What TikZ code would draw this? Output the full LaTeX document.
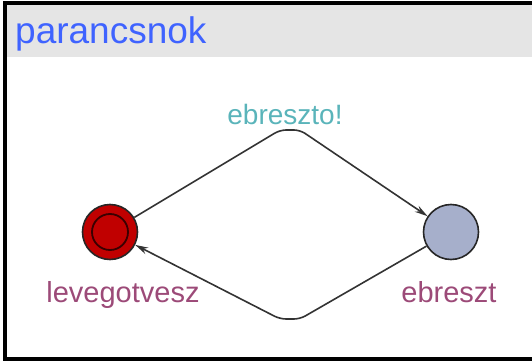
\documentclass[tikz,border=0pt]{standalone}
\usepackage{fontspec}
\setmainfont{Liberation Sans}
\usetikzlibrary{arrows.meta}
\definecolor{headgrey}{HTML}{E5E5E5}
\definecolor{titleblue}{HTML}{3F63FF}
\definecolor{synccol}{HTML}{5AB4BA}
\definecolor{namecol}{HTML}{9C4A78}
\definecolor{initred}{HTML}{C00000}
\definecolor{locblue}{HTML}{A6AFCB}
\definecolor{edgecol}{HTML}{333333}
\tikzset{
  location/.style={circle, draw=black!85, line width=1.6pt, minimum size=55pt, inner sep=0pt},
  transition/.style={draw=edgecol, line width=1.6pt, rounded corners=6pt,
    -{Stealth[length=13pt,width=7pt]}},
  synclabel/.style={text=synccol, font=\fontsize{28}{30}\selectfont, anchor=base},
  locname/.style={text=namecol, font=\fontsize{29}{31}\selectfont, anchor=base},
}
\begin{document}
\begin{tikzpicture}[x=1pt,y=-1pt]
  \useasboundingbox (0,0) rectangle (532,361);
  % header bar with template name
  \fill[headgrey] (5,5) rectangle (532,57);
  \node[anchor=base west, inner sep=0pt, text=titleblue,
        font=\fontsize{37}{39}\selectfont] (title) at (15,44) {parancsnok};
  % frame: top, left and bottom edges
  \draw[black, line width=4pt] (532,3.5) -- (5,3.5) -- (5,359) -- (532,359);

  % locations (the initial one has an inner ring)
  \node[location, fill=initred] (levego) at (110,232) {};
  \node[circle, draw=black!70!initred, line width=1.8pt, minimum size=36pt, inner sep=0pt] (levegoin) at (110,232) {};
  \node[location, fill=locblue] (ebreszt) at (451,232) {};

  % names of locations
  \node[locname] (nlev) at (123,302) {levegotvesz};
  \node[locname] (nebr) at (449,302) {ebreszt};

  % bends of the transitions
  \coordinate (t1) at (280,130);
  \coordinate (t2) at (300,130);
  \coordinate (b1) at (300,319);
  \coordinate (b2) at (280,319);

  % transitions
  \draw[transition] (levego) -- (t1) -- (t2) -- (ebreszt);
  \draw[transition] (ebreszt) -- (b1) -- (b2) -- (levego);

  % synchronisation label
  \node[synclabel] (sync) at (285,124) {ebreszto!};
\end{tikzpicture}
\end{document}
